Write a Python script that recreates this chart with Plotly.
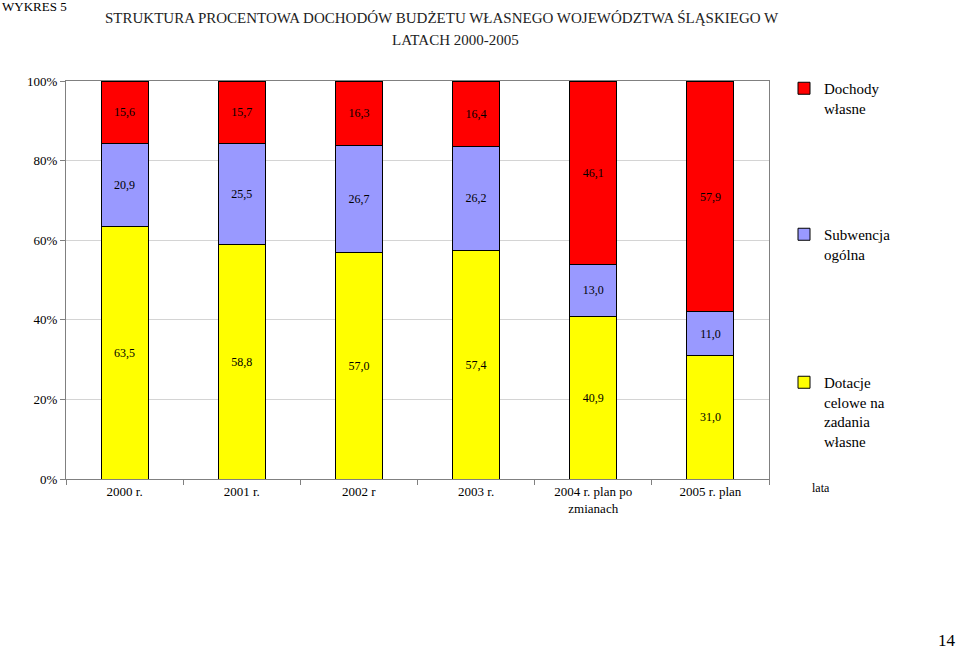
import plotly.graph_objects as go

categories = ["2000 r.", "2001 r.", "2002 r", "2003 r.", "2004 r. plan po<br>zmianach", "2005 r. plan"]
dotacje = [63.5, 58.8, 57.0, 57.4, 40.9, 31.0]
subwencja = [20.9, 25.5, 26.7, 26.2, 13.0, 11.0]
dochody = [15.6, 15.7, 16.3, 16.4, 46.1, 57.9]
y_ticks = [0, 20, 40, 60, 80, 100]
y_tick_labels = ["0%", "20%", "40%", "60%", "80%", "100%"]

SERIF = "Liberation Serif, Times New Roman, serif"

# plot area in page pixels
L, T, R, B = 66, 81, 769, 479
W, H = 959, 649
PW, PH = R - L, B - T

def px(x):
    return (x - L) / PW

def py(y):
    return (B - y) / PH

series = [
    ("Dotacje<br>celowe na<br>zadania<br>własne", dotacje, "#FFFF00", "legend3", 371),
    ("Subwencja<br>ogólna", subwencja, "#9999FF", "legend2", 223),
    ("Dochody<br>własne", dochody, "#FF0000", "legend", 77),
]

def fmt(v):
    return f"{v:.1f}".replace(".", ",")

fig = go.Figure()
for name, vals, col, leg, _ in series:
    fig.add_trace(go.Bar(
        x=categories, y=vals, name=name, legend=leg,
        marker=dict(color=col, line=dict(color="black", width=1)),
        text=[fmt(v) for v in vals], textposition="inside",
        insidetextanchor="middle", textangle=0,
        textfont=dict(family=SERIF, size=12, color="black"),
        constraintext="none", hoverinfo="skip",
        width=0.4,
    ))

legend_common = dict(
    xanchor="left", yanchor="top", valign="top",
    font=dict(family=SERIF, size=15, color="black"),
    itemwidth=30, bgcolor="rgba(0,0,0,0)",
)
leg_layout = {}
for _, _, _, leg, top in series:
    leg_layout[leg] = dict(x=px(784), y=py(top - 5), **legend_common)

fig.update_layout(
    width=W, height=H,
    barmode="stack",
    paper_bgcolor="white", plot_bgcolor="white",
    margin=dict(l=L, r=W - R, t=T, b=H - B),
    font=dict(family=SERIF, size=12, color="black"),
    showlegend=True,
    **leg_layout,
)
fig.update_xaxes(
    showline=True, linecolor="#808080", linewidth=1, mirror=True,
    ticks="outside", tickson="boundaries", ticklen=5, tickcolor="#808080",
    tickfont=dict(family=SERIF, size=13), showgrid=False,
)
fig.update_yaxes(
    range=[0, 100], tickvals=y_ticks, ticktext=y_tick_labels,
    showline=True, linecolor="#808080", linewidth=1, mirror=True,
    ticks="outside", ticklen=5, tickcolor="#808080",
    showgrid=True, gridcolor="#d4d4d4", gridwidth=1,
    tickfont=dict(family=SERIF, size=13), zeroline=False,
)

fig.add_annotation(
    text="STRUKTURA PROCENTOWA DOCHODÓW BUDŻETU WŁASNEGO WOJEWÓDZTWA ŚLĄSKIEGO W",
    xref="paper", yref="paper", x=px(442), y=py(18),
    xanchor="center", yanchor="middle", showarrow=False,
    font=dict(family=SERIF, size=15, color="#222222"),
)
fig.add_annotation(
    text="LATACH 2000-2005",
    xref="paper", yref="paper", x=px(455), y=py(40),
    xanchor="center", yanchor="middle", showarrow=False,
    font=dict(family=SERIF, size=15, color="#222222"),
)
fig.add_annotation(
    text="WYKRES 5", xref="paper", yref="paper",
    x=px(0), y=py(6), xanchor="left", yanchor="middle",
    showarrow=False, font=dict(family=SERIF, size=13, color="black"),
)
fig.add_annotation(
    text="lata", xref="paper", yref="paper",
    x=px(821), y=py(488), xanchor="center", yanchor="middle",
    showarrow=False, font=dict(family=SERIF, size=12, color="black"),
)
fig.add_annotation(
    text="14", xref="paper", yref="paper",
    x=px(958), y=py(640), xanchor="right", yanchor="middle",
    showarrow=False, font=dict(family=SERIF, size=17, color="black"),
)

fig.write_html(
    "out.html",
    config={"displayModeBar": False},
    post_script="document.body.style.margin='0';document.body.style.padding='0';",
)
